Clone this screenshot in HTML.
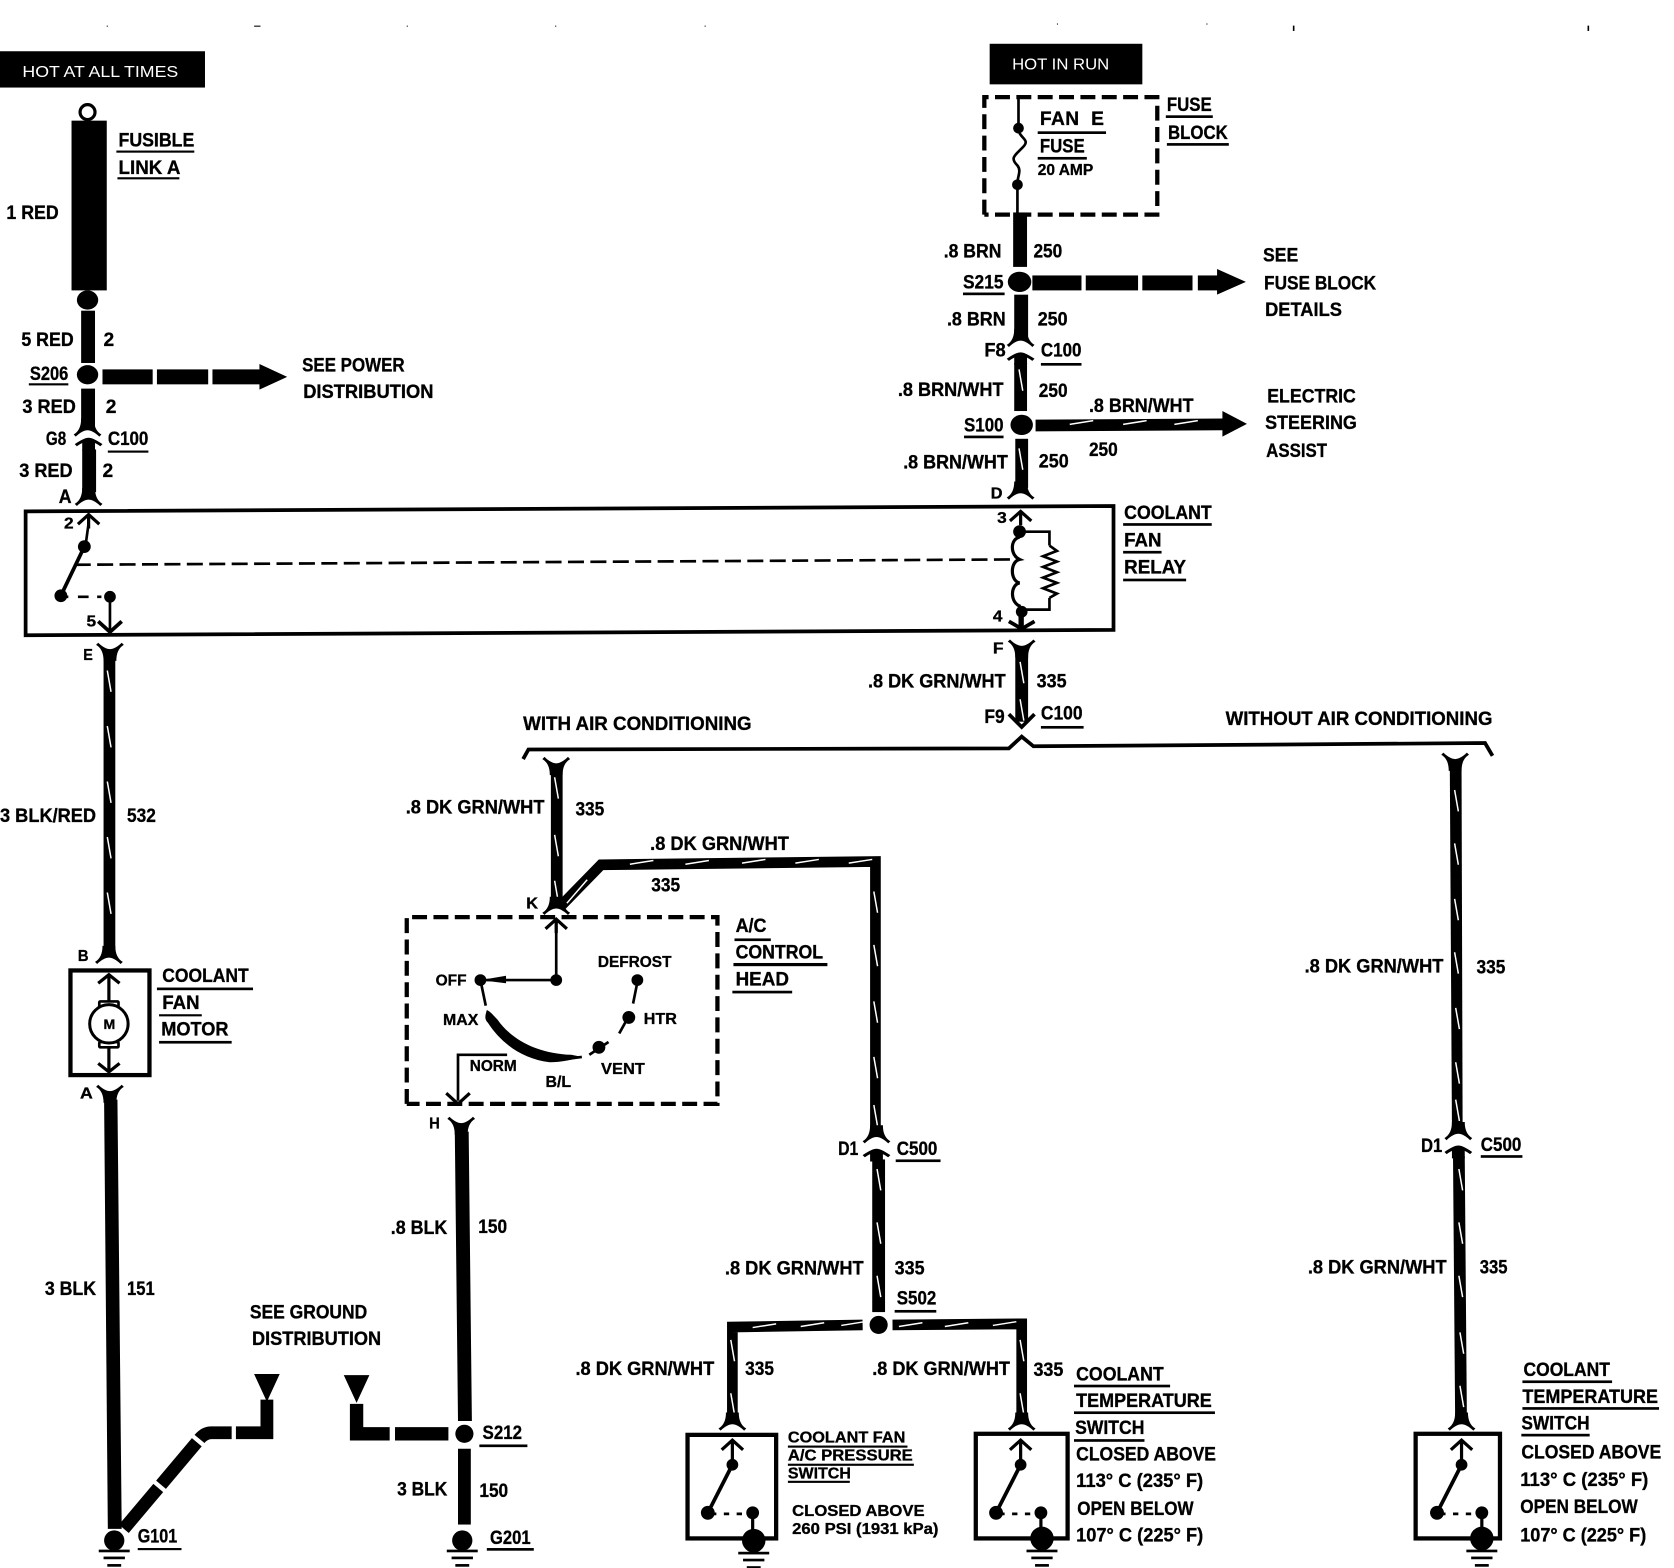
<!DOCTYPE html>
<html><head><meta charset="utf-8"><style>
html,body{margin:0;padding:0;background:#fff}
svg{display:block}
text{font-family:"Liberation Sans",sans-serif;font-weight:bold;font-size:18px;fill:#000;stroke:#000;stroke-width:.3}
.s{font-size:15px}
.w{fill:#fff;stroke:none;font-size:15px;font-weight:normal}
</style></head><body>
<svg xmlns="http://www.w3.org/2000/svg" width="1674" height="1568" viewBox="0 0 1568 1468.7">
<defs>
<path id="cd" d="M-13,5 C-8,2 -6,-3 -6,-10 L6,-10 C6,-3 8,2 13,5 L11,7 C7,3 3,1 0,1 C-3,1 -7,3 -11,7 Z"/>
<path id="cu" d="M-13,-5 C-8,-2 -6,3 -6,10 L6,10 C6,3 8,-2 13,-5 L11,-7 C7,-3 3,-1 0,-1 C-3,-1 -7,-3 -11,-7 Z"/>
<path id="cm" d="M-13,6 C-7,2 -3,0 0,0 C3,0 7,2 13,6 L11,8 C8,6 6,5 6,5 L6,12 L-6,12 L-6,5 C-6,5 -8,6 -11,8 Z"/>
<path id="au" d="M-10,10 L0,1 L10,10 M0,1 V14" fill="none" stroke="#000" stroke-width="3"/>
<g id="gnd"><circle r="9.5"/><rect x="-14.5" y="8.5" width="29" height="2.5"/><rect x="-10" y="15" width="20" height="2.5"/><rect x="-6.5" y="22" width="13" height="2.5"/></g>
<path id="hv" d="M-1.5,0 L2,20" stroke="#fff" stroke-width="1.4" fill="none"/>
<path id="hh" d="M0,1.5 L22,-2" stroke="#fff" stroke-width="1.4" fill="none"/>
<g id="sw" fill="none" stroke="#000">
<path d="M-10,10 L0,1 L10,10 M0,1 V24" stroke-width="3"/>
<path d="M0,24 L-23,69" stroke-width="3.5"/>
<circle cx="0" cy="24" r="5.5" fill="#000" stroke="none"/>
<circle cx="-23" cy="69" r="6.5" fill="#000" stroke="none"/>
<path d="M-20,70 L12,70" stroke-width="2.5" stroke-dasharray="5 7"/>
<circle cx="19" cy="69" r="6" fill="#000" stroke="none"/>
<path d="M19,70 V92" stroke-width="3"/>
</g>
</defs>

<rect width="1568" height="1469" fill="#fff"/>
<!-- specks -->
<g fill="#000"><rect x="100" y="24" width="1" height="1"/><rect x="238" y="24" width="6" height="1"/><rect x="381" y="24" width="1" height="1"/><rect x="520" y="24" width="1" height="1"/><rect x="660" y="24" width="1" height="1"/><rect x="990" y="22" width="1" height="1"/><rect x="1130" y="22" width="1" height="1"/><rect x="1211" y="24" width="1.5" height="5"/><rect x="1487" y="24" width="1.5" height="5"/></g>

<!-- header boxes -->
<rect x="0" y="48" width="192" height="34"/>
<text class="w" x="21" y="72" textLength="146" lengthAdjust="spacingAndGlyphs">HOT AT ALL TIMES</text>
<rect x="927" y="41" width="143" height="38"/>
<text class="w" x="948" y="65" textLength="91" lengthAdjust="spacingAndGlyphs">HOT IN RUN</text>

<!-- left column upper -->
<circle cx="82" cy="105" r="7" fill="none" stroke="#000" stroke-width="3"/>
<rect x="67" y="113" width="33" height="159"/>
<ellipse cx="82" cy="281" rx="10" ry="9"/>
<rect x="76" y="291" width="13" height="49"/>
<ellipse cx="82" cy="351" rx="10" ry="9"/>
<rect x="96" y="346" width="47" height="14"/><rect x="147" y="346" width="48" height="14"/><rect x="199" y="346" width="46" height="14"/>
<path d="M243,341 L269,353 L243,365 Z"/>
<rect x="76" y="364" width="13" height="36"/>
<use href="#cd" x="82" y="402"/>
<use href="#cm" x="83" y="410"/>
<rect x="77" y="421" width="13" height="40"/>
<use href="#cd" x="83" y="467"/>

<!-- relay -->
<path d="M24,479 L1043,474 L1043,590 L24,595 Z" fill="none" stroke="#000" stroke-width="3.5"/>
<use href="#au" x="83" y="481"/>
<path d="M83,490 L80,512" stroke="#000" stroke-width="2.5"/>
<circle cx="79" cy="512" r="6"/>
<path d="M79,512 L57,558" stroke="#000" stroke-width="3.5"/>
<circle cx="57" cy="558" r="6"/>
<path d="M60,559 L98,559" stroke="#000" stroke-width="2.5" stroke-dasharray="4 9 10 8"/>
<circle cx="103" cy="559" r="5.5"/>
<path d="M103,560 V592" stroke="#000" stroke-width="2.5"/>
<path d="M92,582 L103,592 L114,582" fill="none" stroke="#000" stroke-width="3.5"/>
<path d="M70,529 L950,524" stroke="#000" stroke-width="2.5" stroke-dasharray="15 6"/>
<use href="#cu" x="103" y="609"/>
<use href="#au" x="956" y="478"/>
<circle cx="955" cy="498" r="6"/>
<path d="M955,498 H983 V511 M983,560 V571 H957" fill="none" stroke="#000" stroke-width="2.5"/>
<path d="M983,511 L990,516 L977,521 L990,526 L977,531 L990,536 L977,541 L990,546 L977,551 L990,556 L983,560" fill="none" stroke="#000" stroke-width="2.5"/>
<path d="M955,503 C946,505 946,520 955,524 C946,526 946,544 955,546 C946,548 946,565 956,568" fill="none" stroke="#000" stroke-width="3"/>
<circle cx="957" cy="573" r="5.5"/>
<path d="M945,582 L957,589 L969,582" fill="none" stroke="#000" stroke-width="3.5"/>
<rect x="954" y="575" width="5" height="14"/>
<use href="#cu" x="957" y="606"/>

<!-- wire E to motor -->
<rect x="97" y="614" width="11" height="280"/>
<use href="#hv" x="102" y="628"/><use href="#hv" x="102" y="680"/><use href="#hv" x="102" y="732"/><use href="#hv" x="102" y="784"/><use href="#hv" x="102" y="836"/>
<use href="#cd" x="102" y="896"/>
<!-- motor -->
<rect x="66" y="909" width="74" height="98" fill="none" stroke="#000" stroke-width="4"/>
<path d="M92,921 L102,913 L112,921 M102,913 V938 M102,981 V1003 M92,996 L102,1004 L112,996" fill="none" stroke="#000" stroke-width="3"/>
<rect x="93" y="938" width="18" height="5" rx="1" fill="#fff" stroke="#000" stroke-width="2.5"/>
<rect x="93" y="976" width="18" height="5" rx="1" fill="#fff" stroke="#000" stroke-width="2.5"/>
<circle cx="102" cy="959" r="18" fill="#fff" stroke="#000" stroke-width="2.8"/>
<text x="97" y="964" textLength="11" lengthAdjust="spacingAndGlyphs" style="font-size:13px">M</text>
<use href="#cu" x="103" y="1023"/>
<path d="M97.5,1030 H110 L114,1432 H101 Z"/>
<use href="#gnd" x="107" y="1443"/>
<!-- diag -->
<path d="M116,1432 L186,1349 Q191,1342 198,1342 L250,1342 L250,1311" fill="none" stroke="#000" stroke-width="12" stroke-dasharray="50 4 52 4 32 4 200"/>
<path d="M238,1287 H262 L250,1313 Z"/>
<path d="M322,1288 H346 L334,1314 Z"/>
<path d="M334,1315 V1343 H420" fill="none" stroke="#000" stroke-width="12.5"/>
<rect x="365" y="1336" width="5" height="14" fill="#fff"/>
<circle cx="435" cy="1343" r="8.5"/>
<use href="#cu" x="432" y="1053"/>
<path d="M426,1060 H439 L442,1331 H429 Z"/>
<rect x="429" y="1357" width="12" height="71"/>
<use href="#gnd" x="433" y="1443"/>

<!-- right upper -->
<path d="M922,201 V91 H1084 V201 H922" fill="none" stroke="#000" stroke-width="4" stroke-dasharray="14 6"/>
<path d="M954,92 V120 C954,130 966,130 958,138 C950,146 946,148 953,155 C957,160 953,165 953,172 V199" fill="none" stroke="#000" stroke-width="2.5"/>
<circle cx="954" cy="120" r="5"/><circle cx="953" cy="173" r="5"/>
<rect x="949" y="199" width="13" height="51"/>
<ellipse cx="955" cy="264" rx="11" ry="9.5"/>
<rect x="967" y="258" width="46" height="14"/><rect x="1017" y="258" width="49" height="14"/><rect x="1070" y="258" width="47" height="14"/><rect x="1122" y="258" width="21" height="14"/>
<path d="M1140,252 L1167,264 L1140,276 Z"/>
<rect x="950" y="276" width="13" height="41"/>
<use href="#cd" x="956" y="318"/>
<use href="#cm" x="956" y="330"/>
<rect x="950" y="340" width="12" height="45"/>
<use href="#hv" x="956" y="346"/>
<ellipse cx="957" cy="398" rx="10.5" ry="9.5"/>
<path d="M970,393 L1146,392 V403 L970,404 Z"/>
<path d="M1145,385 L1168,397 L1145,409 Z"/>
<use href="#hh" x="1002" y="396"/><use href="#hh" x="1052" y="396"/><use href="#hh" x="1100" y="396"/>
<rect x="951" y="411" width="12" height="46"/>
<use href="#hv" x="956" y="420"/>
<use href="#cd" x="956" y="461"/>
<rect x="951" y="612" width="12" height="64"/>
<use href="#hv" x="957" y="620"/><use href="#hv" x="957" y="655"/>
<path d="M945,669 L957,681 L969,669" fill="none" stroke="#000" stroke-width="3.5"/>
<!-- bus -->
<path d="M490,711 L495,702 L945,701 L957,690 L968,699 L1391,696 L1398,708" fill="none" stroke="#000" stroke-width="3.5"/>

<!-- AC branch -->
<use href="#cu" x="521" y="716"/>
<rect x="516" y="722" width="11" height="122"/>
<use href="#hv" x="521" y="728"/><use href="#hv" x="521" y="782"/><use href="#hv" x="521" y="825"/>
<path d="M524,850 L563,810 L820,807 V1060" fill="none" stroke="#000" stroke-width="10"/>
<path d="M531,846 L550,824" stroke="#fff" stroke-width="1.4"/>
<use href="#hh" x="590" y="808"/><use href="#hh" x="642" y="808"/><use href="#hh" x="695" y="807"/><use href="#hh" x="745" y="807"/><use href="#hh" x="795" y="807"/>
<use href="#hv" x="820" y="835"/><use href="#hv" x="820" y="885"/><use href="#hv" x="820" y="938"/><use href="#hv" x="820" y="990"/><use href="#hv" x="820" y="1035"/>
<use href="#cd" x="521" y="850"/>
<!-- head -->
<path d="M381,1034 V859 H672 V1034 H381" fill="none" stroke="#000" stroke-width="4" stroke-dasharray="14 6"/>
<use href="#au" x="521" y="860"/>
<path d="M521,865 V918 H450" fill="none" stroke="#000" stroke-width="2.5"/>
<path d="M450,918 L474,914 V921 Z"/>
<circle cx="521" cy="918" r="5.5"/><circle cx="450" cy="918" r="5.5"/><circle cx="597" cy="918" r="5.5"/>
<path d="M450,918 L455,942" fill="none" stroke="#000" stroke-width="2.5"/>
<path d="M597,920 L593,940 M590,950 L580,968 M570,976 L552,988 M545,990 L530,992" fill="none" stroke="#000" stroke-width="2.5"/>
<path d="M456,946 C455,950 453,954 457,958 C470,978 490,992 515,995 C525,995 535,993 545,990 L535,988 C505,987 480,975 466,955 C462,951 460,948 456,946 Z"/>
<circle cx="589" cy="953" r="6"/><circle cx="561" cy="981" r="6"/>
<path d="M475,988 H429 V1031" fill="none" stroke="#000" stroke-width="2.5"/>
<path d="M418,1024 L429,1034 L440,1024" fill="none" stroke="#000" stroke-width="3"/>

<!-- C500 / lower -->
<use href="#cd" x="821" y="1064"/>
<use href="#cm" x="821" y="1076"/>
<rect x="817" y="1086" width="12" height="143"/>
<use href="#hv" x="823" y="1095"/><use href="#hv" x="823" y="1145"/><use href="#hv" x="823" y="1195"/>
<circle cx="823" cy="1241" r="8.5"/>
<path d="M808,1241 L686,1243 V1328" fill="none" stroke="#000" stroke-width="10"/>
<path d="M836,1241 L957,1240 V1328" fill="none" stroke="#000" stroke-width="10"/>
<use href="#hh" x="705" y="1242"/><use href="#hh" x="750" y="1241"/><use href="#hh" x="788" y="1240"/>
<use href="#hh" x="842" y="1241"/><use href="#hh" x="885" y="1241"/><use href="#hh" x="930" y="1240"/>
<use href="#hv" x="686" y="1255"/><use href="#hv" x="686" y="1305"/><use href="#hv" x="957" y="1255"/><use href="#hv" x="957" y="1305"/>
<use href="#cd" x="686" y="1333"/>
<use href="#cd" x="957" y="1333"/>
<rect x="644" y="1344" width="83" height="97" fill="none" stroke="#000" stroke-width="4"/>
<rect x="914" y="1343" width="86" height="98" fill="none" stroke="#000" stroke-width="4"/>
<use href="#sw" x="686" y="1348"/>
<use href="#sw" x="956" y="1348"/>
<use href="#gnd" x="706" y="1445"/><circle cx="706" cy="1443" r="11"/>
<use href="#gnd" x="976" y="1443"/><circle cx="976" cy="1441" r="11"/>

<!-- far right -->
<use href="#cu" x="1363" y="712"/>
<path d="M1358,718 H1369 L1370,1056 H1360 Z"/>
<use href="#hv" x="1364" y="740"/><use href="#hv" x="1364" y="790"/><use href="#hv" x="1364" y="842"/><use href="#hv" x="1364" y="892"/><use href="#hv" x="1365" y="944"/><use href="#hv" x="1365" y="995"/><use href="#hv" x="1365" y="1030"/>
<use href="#cd" x="1366" y="1061"/>
<use href="#cm" x="1366" y="1073"/>
<path d="M1361,1083 H1372 L1374,1329 H1363 Z"/>
<use href="#hv" x="1368" y="1095"/><use href="#hv" x="1368" y="1145"/><use href="#hv" x="1368" y="1195"/><use href="#hv" x="1369" y="1248"/><use href="#hv" x="1369" y="1298"/>
<use href="#cd" x="1369" y="1333"/>
<rect x="1326" y="1343" width="79" height="98" fill="none" stroke="#000" stroke-width="4"/>
<use href="#sw" x="1369" y="1348"/>
<use href="#gnd" x="1388" y="1443"/><circle cx="1388" cy="1441" r="11"/>

<!-- underlines -->
<g fill="#000">
<rect x="109" y="141" width="73" height="2"/><rect x="110" y="166" width="58" height="2"/><rect x="27" y="359" width="37" height="2"/><rect x="101" y="422" width="38" height="2"/>
<rect x="147" y="925" width="90" height="2.5"/><rect x="149" y="950" width="40" height="2"/><rect x="149" y="975" width="68" height="2.5"/>
<rect x="129" y="1450" width="41" height="2"/><rect x="449" y="1353" width="45" height="2.5"/><rect x="456" y="1450" width="44" height="2.5"/>
<rect x="688" y="879" width="34" height="2.5"/><rect x="687" y="902" width="88" height="3"/><rect x="686" y="928" width="56" height="2.5"/>
<rect x="839" y="1086" width="42" height="2.5"/><rect x="838" y="1227" width="39" height="2.5"/>
<rect x="1006" y="1297" width="90" height="2.5"/><rect x="1006" y="1322" width="132" height="2.5"/><rect x="1006" y="1348" width="66" height="2.5"/>
<rect x="738" y="1354" width="112" height="2"/><rect x="738" y="1371" width="118" height="2"/><rect x="738" y="1387" width="58" height="2"/>
<rect x="1426" y="1293" width="84" height="2.5"/><rect x="1426" y="1318" width="128" height="2.5"/><rect x="1425" y="1343" width="64" height="2.5"/>
<rect x="1387" y="1082" width="39" height="2.5"/>
<rect x="1092" y="108" width="44" height="2.5"/><rect x="1093" y="134" width="58" height="2.5"/>
<rect x="972" y="123" width="64" height="2.5"/><rect x="972" y="147" width="46" height="2.5"/>
<rect x="902" y="274" width="39" height="2.5"/><rect x="975" y="340" width="38" height="2.5"/><rect x="903" y="408" width="37" height="2.5"/>
<rect x="1052" y="490" width="83" height="2.5"/><rect x="1052" y="516" width="36" height="2.5"/><rect x="1052" y="542" width="59" height="2.5"/>
<rect x="975" y="680" width="40" height="2.5"/>
</g>

<!-- labels -->
<g>
<text x="111" y="137" textLength="71" lengthAdjust="spacingAndGlyphs">FUSIBLE</text>
<text x="111" y="163" textLength="58" lengthAdjust="spacingAndGlyphs">LINK A</text>
<text x="6" y="205" textLength="49" lengthAdjust="spacingAndGlyphs">1 RED</text>
<text x="20" y="324" textLength="49" lengthAdjust="spacingAndGlyphs">5 RED</text>
<text x="97" y="324" textLength="10" lengthAdjust="spacingAndGlyphs">2</text>
<text x="28" y="356" textLength="36" lengthAdjust="spacingAndGlyphs">S206</text>
<text x="283" y="348" textLength="96" lengthAdjust="spacingAndGlyphs">SEE POWER</text>
<text x="284" y="373" textLength="122" lengthAdjust="spacingAndGlyphs">DISTRIBUTION</text>
<text x="21" y="387" textLength="50" lengthAdjust="spacingAndGlyphs">3 RED</text>
<text x="99" y="387" textLength="10" lengthAdjust="spacingAndGlyphs">2</text>
<text x="43" y="417" textLength="19" lengthAdjust="spacingAndGlyphs">G8</text>
<text x="101" y="417" textLength="38" lengthAdjust="spacingAndGlyphs">C100</text>
<text x="18" y="447" textLength="50" lengthAdjust="spacingAndGlyphs">3 RED</text>
<text x="96" y="447" textLength="10" lengthAdjust="spacingAndGlyphs">2</text>
<text x="55" y="471" textLength="12" lengthAdjust="spacingAndGlyphs">A</text>
<text x="60" y="495" class="s" textLength="9" lengthAdjust="spacingAndGlyphs">2</text>
<text x="81" y="587" class="s" textLength="9" lengthAdjust="spacingAndGlyphs">5</text>
<text x="78" y="618" class="s" textLength="9" lengthAdjust="spacingAndGlyphs">E</text>
<text x="0" y="770" textLength="90" lengthAdjust="spacingAndGlyphs">3 BLK/RED</text>
<text x="119" y="770" textLength="27" lengthAdjust="spacingAndGlyphs">532</text>
<text x="73" y="900" class="s" textLength="10" lengthAdjust="spacingAndGlyphs">B</text>
<text x="152" y="920" textLength="81" lengthAdjust="spacingAndGlyphs">COOLANT</text>
<text x="152" y="945" textLength="35" lengthAdjust="spacingAndGlyphs">FAN</text>
<text x="151" y="970" textLength="63" lengthAdjust="spacingAndGlyphs">MOTOR</text>
<text x="75" y="1029" class="s" textLength="12" lengthAdjust="spacingAndGlyphs">A</text>
<text x="42" y="1213" textLength="48" lengthAdjust="spacingAndGlyphs">3 BLK</text>
<text x="119" y="1213" textLength="26" lengthAdjust="spacingAndGlyphs">151</text>
<text x="234" y="1235" textLength="110" lengthAdjust="spacingAndGlyphs">SEE GROUND</text>
<text x="236" y="1260" textLength="121" lengthAdjust="spacingAndGlyphs">DISTRIBUTION</text>
<text x="129" y="1445" textLength="37" lengthAdjust="spacingAndGlyphs">G101</text>
<text x="366" y="1156" textLength="53" lengthAdjust="spacingAndGlyphs">.8 BLK</text>
<text x="448" y="1155" textLength="27" lengthAdjust="spacingAndGlyphs">150</text>
<text x="452" y="1348" textLength="37" lengthAdjust="spacingAndGlyphs">S212</text>
<text x="372" y="1401" textLength="47" lengthAdjust="spacingAndGlyphs">3 BLK</text>
<text x="449" y="1402" textLength="27" lengthAdjust="spacingAndGlyphs">150</text>
<text x="459" y="1446" textLength="38" lengthAdjust="spacingAndGlyphs">G201</text>
<text x="402" y="1057" class="s" textLength="10" lengthAdjust="spacingAndGlyphs">H</text>
<text x="493" y="851" class="s" textLength="11" lengthAdjust="spacingAndGlyphs">K</text>
<text x="490" y="684" textLength="214" lengthAdjust="spacingAndGlyphs">WITH AIR CONDITIONING</text>
<text x="1148" y="679" textLength="250" lengthAdjust="spacingAndGlyphs">WITHOUT AIR CONDITIONING</text>
<text x="380" y="762" textLength="130" lengthAdjust="spacingAndGlyphs">.8 DK GRN/WHT</text>
<text x="539" y="764" textLength="27" lengthAdjust="spacingAndGlyphs">335</text>
<text x="609" y="796" textLength="130" lengthAdjust="spacingAndGlyphs">.8 DK GRN/WHT</text>
<text x="610" y="835" textLength="27" lengthAdjust="spacingAndGlyphs">335</text>
<text x="408" y="923" class="s" textLength="29" lengthAdjust="spacingAndGlyphs">OFF</text>
<text x="415" y="960" class="s" textLength="33" lengthAdjust="spacingAndGlyphs">MAX</text>
<text x="560" y="906" class="s" textLength="69" lengthAdjust="spacingAndGlyphs">DEFROST</text>
<text x="603" y="959" class="s" textLength="31" lengthAdjust="spacingAndGlyphs">HTR</text>
<text x="440" y="1003" class="s" textLength="44" lengthAdjust="spacingAndGlyphs">NORM</text>
<text x="511" y="1018" class="s" textLength="24" lengthAdjust="spacingAndGlyphs">B/L</text>
<text x="563" y="1006" class="s" textLength="41" lengthAdjust="spacingAndGlyphs">VENT</text>
<text x="689" y="873" textLength="29" lengthAdjust="spacingAndGlyphs">A/C</text>
<text x="689" y="898" textLength="82" lengthAdjust="spacingAndGlyphs">CONTROL</text>
<text x="689" y="923" textLength="50" lengthAdjust="spacingAndGlyphs">HEAD</text>
<text x="785" y="1082" textLength="19" lengthAdjust="spacingAndGlyphs">D1</text>
<text x="840" y="1082" textLength="38" lengthAdjust="spacingAndGlyphs">C500</text>
<text x="679" y="1194" textLength="130" lengthAdjust="spacingAndGlyphs">.8 DK GRN/WHT</text>
<text x="838" y="1194" textLength="28" lengthAdjust="spacingAndGlyphs">335</text>
<text x="840" y="1222" textLength="37" lengthAdjust="spacingAndGlyphs">S502</text>
<text x="539" y="1288" textLength="130" lengthAdjust="spacingAndGlyphs">.8 DK GRN/WHT</text>
<text x="698" y="1288" textLength="27" lengthAdjust="spacingAndGlyphs">335</text>
<text x="817" y="1288" textLength="129" lengthAdjust="spacingAndGlyphs">.8 DK GRN/WHT</text>
<text x="968" y="1289" textLength="28" lengthAdjust="spacingAndGlyphs">335</text>
<text x="1008" y="1293" textLength="82" lengthAdjust="spacingAndGlyphs">COOLANT</text>
<text x="1008" y="1318" textLength="127" lengthAdjust="spacingAndGlyphs">TEMPERATURE</text>
<text x="1007" y="1343" textLength="65" lengthAdjust="spacingAndGlyphs">SWITCH</text>
<text x="1008" y="1368" textLength="131" lengthAdjust="spacingAndGlyphs">CLOSED ABOVE</text>
<text x="1008" y="1393" textLength="119" lengthAdjust="spacingAndGlyphs">113° C (235° F)</text>
<text x="1009" y="1419" textLength="109" lengthAdjust="spacingAndGlyphs">OPEN BELOW</text>
<text x="1008" y="1444" textLength="119" lengthAdjust="spacingAndGlyphs">107° C (225° F)</text>
<text x="738" y="1351" class="s" textLength="110" lengthAdjust="spacingAndGlyphs">COOLANT FAN</text>
<text x="738" y="1368" class="s" textLength="117" lengthAdjust="spacingAndGlyphs">A/C PRESSURE</text>
<text x="738" y="1385" class="s" textLength="59" lengthAdjust="spacingAndGlyphs">SWITCH</text>
<text x="742" y="1420" class="s" textLength="124" lengthAdjust="spacingAndGlyphs">CLOSED ABOVE</text>
<text x="742" y="1437" class="s" textLength="137" lengthAdjust="spacingAndGlyphs">260 PSI (1931 kPa)</text>
<text x="1427" y="1289" textLength="81" lengthAdjust="spacingAndGlyphs">COOLANT</text>
<text x="1426" y="1314" textLength="127" lengthAdjust="spacingAndGlyphs">TEMPERATURE</text>
<text x="1425" y="1339" textLength="64" lengthAdjust="spacingAndGlyphs">SWITCH</text>
<text x="1425" y="1366" textLength="131" lengthAdjust="spacingAndGlyphs">CLOSED ABOVE</text>
<text x="1424" y="1392" textLength="120" lengthAdjust="spacingAndGlyphs">113° C (235° F)</text>
<text x="1424" y="1417" textLength="110" lengthAdjust="spacingAndGlyphs">OPEN BELOW</text>
<text x="1424" y="1444" textLength="118" lengthAdjust="spacingAndGlyphs">107° C (225° F)</text>
<text x="1331" y="1079" textLength="20" lengthAdjust="spacingAndGlyphs">D1</text>
<text x="1387" y="1078" textLength="38" lengthAdjust="spacingAndGlyphs">C500</text>
<text x="1222" y="911" textLength="130" lengthAdjust="spacingAndGlyphs">.8 DK GRN/WHT</text>
<text x="1383" y="912" textLength="27" lengthAdjust="spacingAndGlyphs">335</text>
<text x="1225" y="1193" textLength="130" lengthAdjust="spacingAndGlyphs">.8 DK GRN/WHT</text>
<text x="1386" y="1193" textLength="26" lengthAdjust="spacingAndGlyphs">335</text>
<text x="1093" y="104" textLength="42" lengthAdjust="spacingAndGlyphs">FUSE</text>
<text x="1094" y="130" textLength="56" lengthAdjust="spacingAndGlyphs">BLOCK</text>
<text x="974" y="117" xml:space="preserve" textLength="60" lengthAdjust="spacing">FAN  E</text>
<text x="974" y="143" textLength="42" lengthAdjust="spacingAndGlyphs">FUSE</text>
<text x="972" y="164" class="s" textLength="52" lengthAdjust="spacingAndGlyphs">20 AMP</text>
<text x="884" y="241" textLength="54" lengthAdjust="spacingAndGlyphs">.8 BRN</text>
<text x="968" y="241" textLength="27" lengthAdjust="spacingAndGlyphs">250</text>
<text x="902" y="270" textLength="38" lengthAdjust="spacingAndGlyphs">S215</text>
<text x="1183" y="245" textLength="33" lengthAdjust="spacingAndGlyphs">SEE</text>
<text x="1184" y="271" textLength="105" lengthAdjust="spacingAndGlyphs">FUSE BLOCK</text>
<text x="1185" y="296" textLength="72" lengthAdjust="spacingAndGlyphs">DETAILS</text>
<text x="887" y="305" textLength="55" lengthAdjust="spacingAndGlyphs">.8 BRN</text>
<text x="972" y="305" textLength="28" lengthAdjust="spacingAndGlyphs">250</text>
<text x="922" y="334" textLength="20" lengthAdjust="spacingAndGlyphs">F8</text>
<text x="975" y="334" textLength="38" lengthAdjust="spacingAndGlyphs">C100</text>
<text x="841" y="371" textLength="99" lengthAdjust="spacingAndGlyphs">.8 BRN/WHT</text>
<text x="973" y="372" textLength="27" lengthAdjust="spacingAndGlyphs">250</text>
<text x="1020" y="386" textLength="98" lengthAdjust="spacingAndGlyphs">.8 BRN/WHT</text>
<text x="1020" y="427" textLength="27" lengthAdjust="spacingAndGlyphs">250</text>
<text x="903" y="404" textLength="37" lengthAdjust="spacingAndGlyphs">S100</text>
<text x="1187" y="377" textLength="83" lengthAdjust="spacingAndGlyphs">ELECTRIC</text>
<text x="1185" y="402" textLength="86" lengthAdjust="spacingAndGlyphs">STEERING</text>
<text x="1186" y="428" textLength="57" lengthAdjust="spacingAndGlyphs">ASSIST</text>
<text x="846" y="439" textLength="98" lengthAdjust="spacingAndGlyphs">.8 BRN/WHT</text>
<text x="973" y="438" textLength="28" lengthAdjust="spacingAndGlyphs">250</text>
<text x="928" y="467" class="s" textLength="11" lengthAdjust="spacingAndGlyphs">D</text>
<text x="934" y="490" class="s" textLength="9" lengthAdjust="spacingAndGlyphs">3</text>
<text x="930" y="582" class="s" textLength="9" lengthAdjust="spacingAndGlyphs">4</text>
<text x="1053" y="486" textLength="82" lengthAdjust="spacingAndGlyphs">COOLANT</text>
<text x="1053" y="512" textLength="35" lengthAdjust="spacingAndGlyphs">FAN</text>
<text x="1053" y="537" textLength="58" lengthAdjust="spacingAndGlyphs">RELAY</text>
<text x="930" y="612" class="s" textLength="10" lengthAdjust="spacingAndGlyphs">F</text>
<text x="813" y="644" textLength="129" lengthAdjust="spacingAndGlyphs">.8 DK GRN/WHT</text>
<text x="971" y="644" textLength="28" lengthAdjust="spacingAndGlyphs">335</text>
<text x="922" y="677" textLength="19" lengthAdjust="spacingAndGlyphs">F9</text>
<text x="975" y="674" textLength="39" lengthAdjust="spacingAndGlyphs">C100</text>
</g>
</svg>
</body></html>
